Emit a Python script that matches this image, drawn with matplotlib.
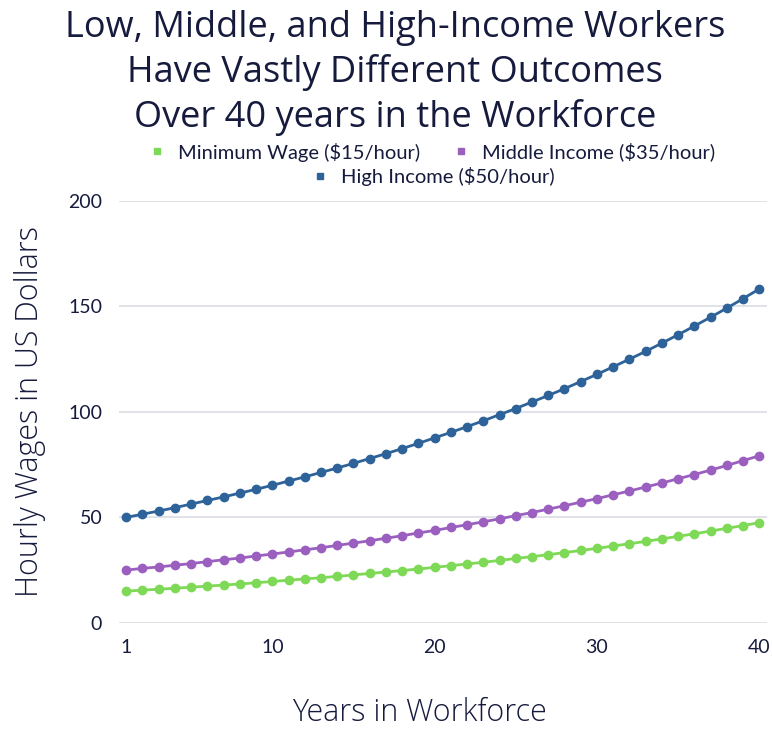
import matplotlib
matplotlib.use("Agg")
import matplotlib.pyplot as plt
from matplotlib.lines import Line2D

years = list(range(1, 41))

minimum_wage = [15.0, 15.5, 15.9, 16.4, 16.9, 17.4, 17.9, 18.4, 19.0, 19.6,
                20.2, 20.8, 21.4, 22.0, 22.7, 23.4, 24.1, 24.8, 25.5, 26.3,
                27.1, 27.9, 28.7, 29.6, 30.5, 31.4, 32.3, 33.3, 34.3, 35.3,
                36.4, 37.5, 38.6, 39.8, 41.0, 42.2, 43.5, 44.8, 46.1, 47.5]
middle_income = [25.0, 25.8, 26.5, 27.3, 28.1, 29.0, 29.9, 30.7, 31.7, 32.6,
                 33.6, 34.6, 35.6, 36.7, 37.8, 38.9, 40.1, 41.3, 42.6, 43.8,
                 45.2, 46.5, 47.9, 49.3, 50.8, 52.3, 53.9, 55.5, 57.2, 58.9,
                 60.7, 62.5, 64.4, 66.3, 68.3, 70.3, 72.4, 74.6, 76.9, 79.2]
high_income = [50.0, 51.5, 53.0, 54.6, 56.3, 58.0, 59.7, 61.5, 63.3, 65.2,
               67.2, 69.2, 71.3, 73.4, 75.6, 77.9, 80.2, 82.6, 85.1, 87.7,
               90.3, 93.0, 95.8, 98.7, 101.6, 104.7, 107.8, 111.0, 114.4, 117.8,
               121.4, 125.0, 128.7, 132.6, 136.6, 140.7, 144.9, 149.2, 153.7, 158.3]

labels = ["Minimum Wage ($15/hour)", "Middle Income ($35/hour)", "High Income ($50/hour)"]
colors = ["#7ed957", "#9b5fc0", "#2e6399"]
x_ticks = [1, 10, 20, 30, 40]
y_ticks = [0, 50, 100, 150, 200]

NAVY = "#161b3d"

fig = plt.figure(figsize=(7.72, 7.31), dpi=100)
ax = fig.add_axes([0.154, 0.148, 0.84, 0.577])

for series, color in zip([minimum_wage, middle_income, high_income], colors):
    ax.plot(years, series, color=color, lw=2, marker="o", markersize=6, zorder=3)

ax.set_xlim(0.55, 40.5)
ax.set_ylim(0, 200)
ax.set_xticks(x_ticks)
ax.set_yticks(y_ticks)
ax.grid(axis="y", color="#dcdce4", lw=1.2)
ax.set_axisbelow(True)
for s in ax.spines.values():
    s.set_visible(False)
ax.tick_params(length=0, colors=NAVY, labelsize=14, pad=12)
for lab in ax.get_xticklabels() + ax.get_yticklabels():
    lab.set_family("Lato")

ax.set_ylabel("Hourly Wages in US Dollars", fontsize=22, color=NAVY,
              family="Open Sans", fontweight="light", labelpad=16)
ax.set_xlabel("Years in Workforce", fontsize=22, color=NAVY,
              family="Open Sans", fontweight="light")
ax.xaxis.set_label_coords(0.463, -0.175)

fig.text(0.512, 0.9, "Low, Middle, and High-Income Workers\nHave Vastly Different Outcomes\nOver 40 years in the Workforce",
         ha="center", va="center", fontsize=26, color=NAVY, family="Open Sans",
         linespacing=1.3)

handles = [Line2D([], [], color=c, marker="s", ls="none", markersize=5) for c in colors]
fig.legend(handles[:2], labels[:2], loc="center", bbox_to_anchor=(0.552, 0.792),
           ncol=2, frameon=False, handletextpad=0.05, columnspacing=1.0,
           prop={"family": "Lato", "size": 14.5}, labelcolor=NAVY)
fig.legend(handles[2:], labels[2:], loc="center", bbox_to_anchor=(0.553, 0.759),
           frameon=False, handletextpad=0.05,
           prop={"family": "Lato", "size": 14.5}, labelcolor=NAVY)

fig.savefig("out.png", dpi=100)
